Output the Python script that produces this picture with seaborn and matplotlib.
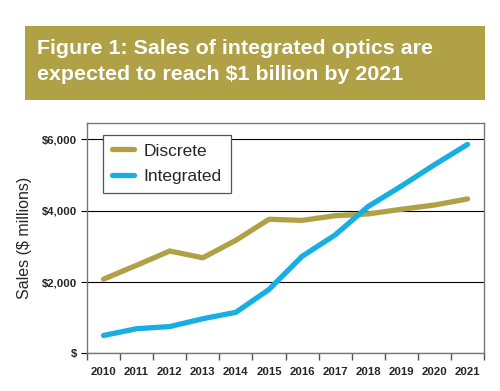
import numpy as np
import pandas as pd
import matplotlib.pyplot as plt
import seaborn as sns
from matplotlib.patches import Rectangle
from matplotlib.lines import Line2D

# Data
years = [2010, 2011, 2012, 2013, 2014, 2015, 2016, 2017, 2018, 2019, 2020, 2021]
discrete = [2080, 2470, 2870, 2680, 3170, 3760, 3730, 3860, 3910, 4040, 4160, 4330]
integrated = [500, 690, 750, 970, 1150, 1790, 2720, 3320, 4120, 4690, 5290, 5860]

gold = '#B0A147'
blue = '#18AEE3'

df = pd.DataFrame({
    'idx': list(range(len(years))) * 2,
    'value': discrete + integrated,
    'series': ['Discrete'] * len(years) + ['Integrated'] * len(years),
})

sns.set_style('white')
plt.rcParams['font.family'] = ['Liberation Sans', 'DejaVu Sans']

fig = plt.figure(figsize=(5, 3.91), dpi=100)

# title banner
fig.patches.append(Rectangle((25 / 500, 1 - 100.5 / 391), 460 / 500, 74.5 / 391,
                             transform=fig.transFigure, facecolor=gold,
                             edgecolor='none', zorder=0))
fig.text(37 / 500, 1 - 49 / 391, 'Figure 1: Sales of integrated optics are',
         color='white', fontsize=15.4, fontweight='bold', va='center', ha='left')
fig.text(37 / 500, 1 - 74 / 391, 'expected to reach $1 billion by 2021',
         color='white', fontsize=15.4, fontweight='bold', va='center', ha='left')

ax = fig.add_axes([87 / 500, 1 - 353.3 / 391, 397 / 500, 230.6 / 391])

sns.lineplot(data=df, x='idx', y='value', hue='series',
             palette={'Discrete': gold, 'Integrated': blue},
             linewidth=3.8, ax=ax, legend=False, zorder=3)

ax.set_xlim(-0.5, len(years) - 0.5)
ax.set_ylim(0, 6470)

# y axis
ax.set_yticks([0, 2000, 4000, 6000])
ax.set_yticklabels(['$', '$2,000', '$4,000', '$6,000'], fontsize=8.2, fontweight='bold')
ax.set_ylabel('Sales ($ millions)', fontsize=11.5, labelpad=7)
ax.yaxis.grid(True, color='black', linewidth=0.8)

# x axis: ticks on category boundaries, labels at centres
ax.set_xticks(np.arange(-0.5, len(years), 1.0))
ax.set_xticklabels([])
ax.set_xticks(range(len(years)), minor=True)
ax.set_xticklabels([str(y) for y in years], minor=True, fontsize=8.2, fontweight='bold')
ax.set_xlabel('')
ax.tick_params(axis='x', which='major', direction='out', length=5, width=1, color='#555555', bottom=True)
ax.tick_params(axis='x', which='minor', length=0, pad=10)
ax.tick_params(axis='y', direction='out', length=4, width=0.8, color='black', left=True, pad=3)

for s in ax.spines.values():
    s.set_color('#777777')
    s.set_linewidth(1.0)

# legend
handles = [Line2D([], [], color=gold, linewidth=3.8),
           Line2D([], [], color=blue, linewidth=3.8)]
leg = ax.legend(handles, ['Discrete', 'Integrated'], loc='upper left',
                bbox_to_anchor=(16 / 397, 1 - 12 / 230.6), fontsize=12.5,
                frameon=True, fancybox=False, framealpha=1, handlelength=1.3,
                borderpad=0.5, labelspacing=0.62, handletextpad=0.55,
                borderaxespad=0)
leg.get_frame().set_edgecolor('#555555')
leg.get_frame().set_linewidth(0.9)
leg.set_zorder(5)

fig.savefig('out.png', dpi=100)
